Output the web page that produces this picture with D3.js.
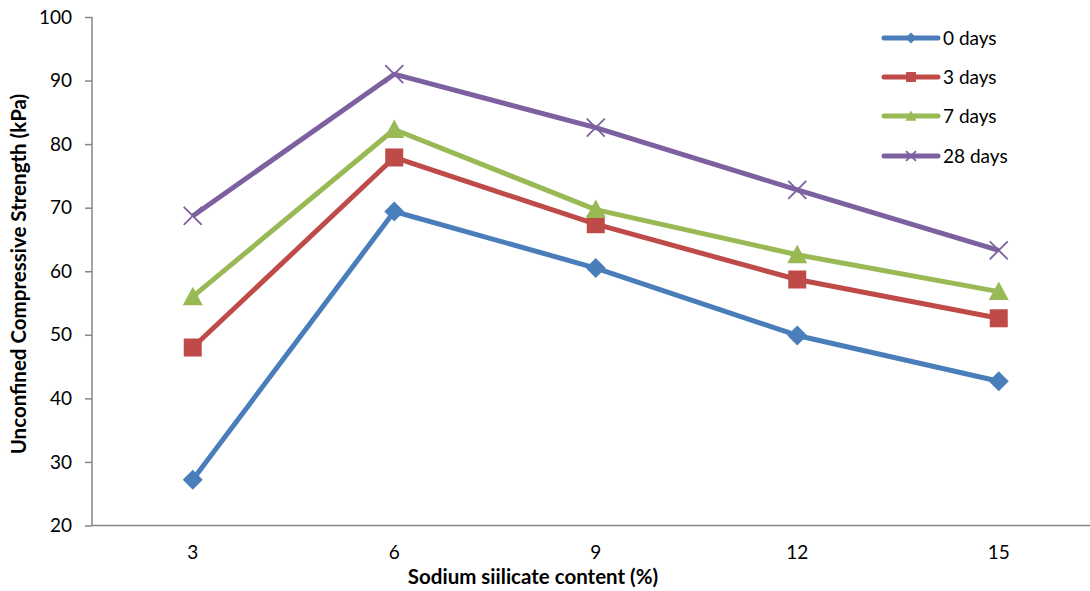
<!DOCTYPE html>
<html><head><meta charset="utf-8">
<script src="https://cdn.jsdelivr.net/npm/d3@7"></script>
<style>body{margin:0;background:#fff}svg{display:block}text{font-family:Lato,"Open Sans",sans-serif}</style>
</head><body><svg id="c" width="1090" height="591"></svg>
<script>
const categories = ["3","6","9","12","15"];
const seriesNames = ["0 days","3 days","7 days","28 days"];
const days0 = [27.2, 69.4, 60.5, 49.9, 42.7];
const days3 = [48.0, 77.9, 67.4, 58.7, 52.6];
const days7 = [56.0, 82.3, 69.7, 62.6, 56.8];
const days28 = [68.7, 91.0, 82.6, 72.8, 63.3];
const yTicks = [20,30,40,50,60,70,80,90,100];
const colors = ["#4A7EBB","#BE4B48","#98B954","#7D60A0"];
const markers = ["diamond","square","triangle","x"];
const allSeries = [days0, days3, days7, days28];

const svg = d3.select("#c");
const x = d3.scaleBand().domain(categories).range([92, 1099.5]);
const y = d3.scaleLinear().domain([20,100]).range([525.5, 17]);

// y axis
const ya = svg.append("g").attr("transform","translate(92,0)")
  .call(d3.axisLeft(y).tickValues(yTicks).tickSize(7).tickPadding(13).tickFormat(d3.format("d")));
ya.select(".domain").attr("stroke","#868686").attr("stroke-width",1.5).attr("d","M0,"+y(100)+"V"+y(20));
ya.selectAll(".tick line").attr("stroke","#868686").attr("stroke-width",1.5);
ya.selectAll(".tick text").attr("font-size",19).attr("fill","#000");

// x axis
const xa = svg.append("g").attr("transform","translate(0,"+y(20)+")")
  .call(d3.axisBottom(x).tickSize(0).tickPadding(20));
xa.select(".domain").attr("stroke","#868686").attr("stroke-width",1.5).attr("d","M92,0H1090");
xa.selectAll(".tick text").attr("font-size",19).attr("fill","#000");

// titles
svg.append("text").attr("x",533).attr("y",584).attr("text-anchor","middle")
  .attr("font-size",20.5).attr("font-weight","bold").text("Sodium siilicate content (%)");
svg.append("text").attr("transform","translate(26,274) rotate(-90)").attr("text-anchor","middle")
  .attr("font-size",20.5).attr("font-weight","bold").text("Unconfined Compressive Strength (kPa)");

function drawMarker(g, type, color, s){
  if(type==="diamond"){
    g.append("path").attr("d",`M0,${-s/2}L${s/2},0L0,${s/2}L${-s/2},0Z`).attr("fill",color);
  } else if(type==="square"){
    const h=s*0.45; g.append("rect").attr("x",-h).attr("y",-h).attr("width",2*h).attr("height",2*h).attr("fill",color);
  } else if(type==="triangle"){
    const h=s*0.5; g.append("path").attr("d",`M0,${-h}L${h},${h*0.85}L${-h},${h*0.85}Z`).attr("fill",color);
  } else {
    const h=s*0.45; g.append("path").attr("d",`M${-h},${-h}L${h},${h}M${-h},${h}L${h},${-h}`).attr("stroke",color).attr("stroke-width",1.8);
  }
}

const line = d3.line().x((d,i)=>x(categories[i])+x.bandwidth()/2).y(d=>y(d));
allSeries.forEach((vals,si)=>{
  const g = svg.append("g");
  g.append("path").attr("d",line(vals)).attr("fill","none").attr("stroke",colors[si])
    .attr("stroke-width",5).attr("stroke-linejoin","round");
  vals.forEach((v,i)=>{
    const mg = g.append("g").attr("transform",`translate(${x(categories[i])+x.bandwidth()/2},${y(v)})`);
    drawMarker(mg, markers[si], colors[si], 20);
  });
});

// legend
const legY = [38,77,116,156];
seriesNames.forEach((n,i)=>{
  const g = svg.append("g").attr("transform",`translate(0,${legY[i]})`);
  g.append("line").attr("x1",884).attr("x2",938).attr("stroke",colors[i]).attr("stroke-width",5).attr("stroke-linecap","round");
  const mg = g.append("g").attr("transform","translate(911,0)");
  drawMarker(mg, markers[i], colors[i], 11);
  g.append("text").attr("x",943).attr("y",7).attr("font-size",19).text(n);
});
</script></body></html>
